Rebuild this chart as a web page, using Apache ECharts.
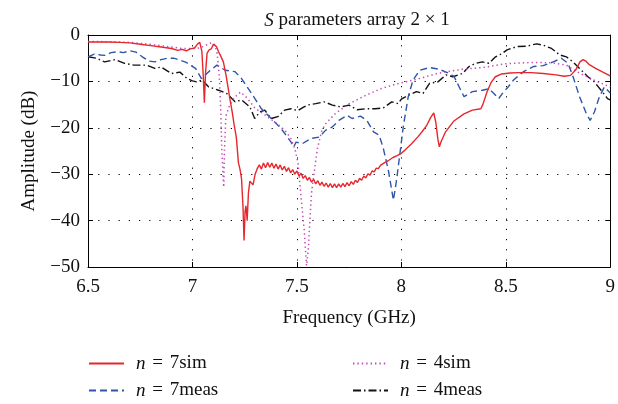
<!DOCTYPE html>
<html>
<head>
<meta charset="utf-8">
<script src="https://cdn.jsdelivr.net/npm/echarts@6/dist/echarts.min.js"></script>
<style>html,body{margin:0;padding:0;background:#fff}#c{width:618px;height:404px}</style>
</head>
<body>
<div id="c"></div>
<script>
// ---- data (frequency GHz, amplitude dB) ----
var xTicks = [6.5, 7, 7.5, 8, 8.5, 9];
var yTicks = [0, -10, -20, -30, -40, -50];
var seriesNames = ['n = 7sim', 'n = 7meas', 'n = 4sim', 'n = 4meas'];

var sim7 = [
 [6.50,-1.5],[6.55,-1.5],[6.60,-1.5],[6.65,-1.6],[6.70,-1.7],[6.75,-2.0],[6.80,-2.3],[6.85,-2.6],[6.90,-2.9],
 [6.93,-3.3],[6.95,-3.1],[6.97,-3.4],[6.99,-3.0],[7.01,-2.8],[7.025,-1.9],[7.035,-1.6],[7.045,-3.5],[7.052,-9],
 [7.057,-14.6],[7.063,-8],[7.07,-3.9],[7.08,-3.2],[7.09,-3.0],[7.10,-2.0],[7.106,-1.7],[7.115,-2.5],[7.125,-3.6],
 [7.135,-4.5],[7.148,-5.8],[7.16,-8.5],[7.17,-11.2],[7.18,-14],[7.19,-16.5],[7.20,-19.5],[7.21,-22],[7.22,-27.5],
 [7.228,-29.0],[7.235,-31],[7.242,-37],[7.247,-44.3],[7.252,-38],[7.256,-36.8],[7.262,-40],[7.268,-34],[7.275,-31.5],
 [7.283,-31.2],[7.29,-32.3],[7.30,-30.0],[7.31,-28.8],
 [7.32,-28.0],[7.33,-28.9],[7.34,-27.6],[7.35,-28.6],[7.36,-27.5],[7.37,-28.5],[7.38,-27.6],[7.39,-28.7],[7.40,-27.8],
 [7.41,-28.9],[7.42,-28.0],[7.43,-29.1],[7.44,-28.3],[7.45,-29.4],[7.46,-28.6],[7.47,-29.7],[7.48,-29.0],[7.49,-30.0],
 [7.50,-29.3],[7.51,-30.4],[7.52,-29.8],[7.53,-30.9],[7.54,-30.3],[7.55,-31.3],[7.56,-30.7],[7.57,-31.7],[7.58,-31.1],
 [7.59,-32.1],[7.60,-31.4],[7.61,-32.4],[7.62,-31.7],[7.63,-32.6],[7.64,-31.9],[7.65,-32.8],[7.66,-32.0],[7.67,-32.9],
 [7.68,-32.1],[7.69,-32.9],[7.70,-32.1],[7.71,-32.8],[7.72,-32.0],[7.73,-32.7],[7.74,-31.8],[7.75,-32.5],[7.76,-31.6],
 [7.77,-32.2],[7.78,-31.3],[7.79,-31.8],[7.80,-30.9],[7.81,-31.3],[7.82,-30.4],[7.83,-30.8],[7.84,-29.9],[7.85,-30.2],
 [7.86,-29.3],[7.87,-29.5],[7.88,-28.7],[7.89,-28.8],[7.90,-28.1],[7.92,-27.5],[7.94,-27.0],[7.96,-26.4],[7.98,-26.0],
 [8.00,-25.5],[8.02,-24.7],[8.05,-23.4],[8.08,-21.9],[8.10,-20.8],[8.12,-19.6],[8.14,-17.8],[8.155,-16.8],[8.165,-18.8],
 [8.175,-22.5],[8.182,-24.1],[8.19,-23.0],[8.21,-21.0],[8.25,-18.6],[8.30,-17.0],[8.34,-16.2],[8.38,-15.9],[8.39,-15.0],
 [8.41,-12.3],[8.43,-10.2],[8.45,-9.0],[8.48,-8.4],[8.52,-8.2],[8.56,-8.1],[8.62,-8.1],[8.68,-8.3],[8.74,-8.6],
 [8.78,-8.9],[8.81,-8.7],[8.835,-7.5],[8.855,-5.8],[8.87,-5.3],[8.885,-5.7],[8.90,-6.4],[8.93,-7.2],[8.96,-7.9],[9.00,-8.8]
];

var meas7 = [
 [6.50,-4.7],[6.53,-4.1],[6.56,-4.3],[6.58,-4.4],[6.61,-3.8],[6.64,-3.6],[6.67,-3.8],[6.70,-3.4],[6.73,-3.7],
 [6.76,-4.7],[6.79,-5.6],[6.82,-5.8],[6.85,-5.3],[6.88,-5.0],[6.91,-5.0],[6.94,-5.4],[6.97,-5.9],[6.99,-6.5],
 [7.015,-7.2],[7.043,-9.4],[7.078,-7.9],[7.117,-6.5],[7.157,-7.6],[7.204,-7.9],[7.235,-9.4],[7.283,-12.6],
 [7.33,-15.9],[7.377,-18.0],[7.425,-20.2],[7.472,-23.1],[7.485,-24.1],[7.496,-23.1],[7.527,-23.4],[7.567,-22.3],
 [7.607,-22.0],[7.638,-20.5],[7.67,-19.8],[7.701,-18.4],[7.74,-17.3],[7.764,-18.0],[7.804,-17.5],[7.835,-18.4],
 [7.867,-20.9],[7.894,-21.6],[7.914,-24.5],[7.938,-29.2],[7.962,-35.6],[7.977,-31.3],[7.993,-25.6],[8.009,-19.8],
 [8.033,-13.3],[8.056,-9.7],[8.088,-7.6],[8.135,-7.0],[8.182,-7.4],[8.23,-8.3],[8.253,-9.0],[8.277,-11.2],[8.30,-13.3],
 [8.34,-12.2],[8.388,-11.9],[8.419,-11.6],[8.443,-12.6],[8.466,-13.7],[8.49,-12.2],[8.506,-11.5],[8.537,-9.7],
 [8.585,-7.9],[8.632,-6.8],[8.679,-6.6],[8.727,-5.8],[8.766,-5.0],[8.798,-6.1],[8.822,-9.0],[8.853,-13.3],
 [8.885,-16.9],[8.904,-18.4],[8.924,-16.6],[8.948,-13.3],[8.972,-11.2],[9.00,-12.5]
];

var sim4 = [
 [6.50,-1.4],[6.55,-1.4],[6.60,-1.5],[6.65,-1.5],[6.70,-1.6],[6.75,-1.8],[6.80,-2.0],[6.85,-2.3],[6.90,-2.6],
 [6.95,-2.9],[7.00,-2.9],[7.03,-2.8],[7.05,-2.5],[7.07,-2.1],[7.09,-1.7],[7.105,-2.0],[7.117,-3.6],[7.125,-7],
 [7.13,-10],[7.136,-16.9],[7.14,-24],[7.146,-30],[7.15,-32.8],[7.153,-25],[7.16,-17.5],[7.175,-15.5],[7.20,-13.5],
 [7.23,-12.3],[7.26,-13.5],[7.30,-15.8],[7.35,-17.3],[7.40,-19],[7.44,-20.4],[7.47,-22.2],[7.49,-24.5],[7.505,-27.5],
 [7.52,-35],[7.535,-42],[7.546,-49.7],[7.555,-46],[7.562,-40],[7.57,-34],[7.583,-29.5],[7.598,-24.5],[7.62,-20.5],
 [7.64,-19],[7.685,-16.9],[7.75,-14.8],[7.83,-13.0],[7.90,-11.6],[7.98,-10.5],[8.07,-9.6],[8.17,-8.3],[8.29,-7.4],
 [8.39,-7.0],[8.50,-6.2],[8.63,-5.9],[8.72,-6.0],[8.79,-6.5],[8.84,-7.9],[8.92,-9.7],[9.00,-11.2]
];

var meas4 = [
 [6.50,-4.7],[6.54,-5.0],[6.58,-5.8],[6.63,-5.3],[6.675,-6.1],[6.72,-6.5],[6.78,-6.5],[6.82,-7.2],[6.85,-6.9],
 [6.90,-8.3],[6.94,-8.0],[6.975,-9.4],[7.00,-9.9],[7.02,-10.1],[7.046,-9.7],[7.078,-11.2],[7.125,-11.9],[7.164,-12.6],
 [7.204,-14.4],[7.235,-14.0],[7.275,-15.5],[7.298,-18.0],[7.322,-16.6],[7.346,-16.2],[7.377,-18.0],[7.409,-17.6],
 [7.441,-16.2],[7.472,-15.9],[7.504,-16.3],[7.53,-15.6],[7.551,-15.1],[7.59,-14.8],[7.63,-14.4],[7.67,-15.1],
 [7.709,-15.5],[7.749,-15.1],[7.788,-16.1],[7.827,-15.9],[7.875,-15.9],[7.914,-15.7],[7.954,-14.4],[7.985,-14.8],
 [8.00,-13.8],[8.033,-13.0],[8.072,-12.2],[8.104,-12.6],[8.135,-10.4],[8.175,-10.1],[8.214,-8.6],[8.246,-9.0],
 [8.293,-8.3],[8.324,-6.8],[8.356,-6.1],[8.388,-5.8],[8.419,-6.1],[8.451,-4.7],[8.482,-4.0],[8.506,-3.2],[8.553,-2.5],
 [8.601,-2.4],[8.648,-1.9],[8.679,-2.2],[8.719,-2.9],[8.758,-4.3],[8.79,-4.7],[8.822,-5.8],[8.853,-7.2],[8.893,-9.0],
 [8.924,-10.1],[8.956,-11.9],[8.987,-13.7],[9.00,-14.0]
];

// ---- chart ----
var FONT = '"Liberation Serif", "DejaVu Serif", serif';
var FS = 19;
var chart = echarts.init(document.getElementById('c'), null, {renderer: 'canvas'});
var gridLine = {show: true, lineStyle: {color: '#000', width: 1, type: [1.2, 9]}};
function fmtY(v) { return String(v).replace('-', '\u2212'); }
function makeRich() {
  return {
    i: {fontFamily: FONT, fontStyle: 'italic', fontSize: FS, lineHeight: 19, color: '#111', padding: [0, 0, 0, 7]},
    e: {fontFamily: FONT, fontSize: FS, lineHeight: 19, color: '#111', padding: [0, 2, 0, 2]},
    t: {fontFamily: FONT, fontSize: FS, lineHeight: 19, color: '#111'}
  };
}
function legendFmt(name) {
  var parts = name.split(' = ');
  return '{i|' + parts[0] + '}{e| = }{t|' + parts[1] + '}';
}
function makeLegend(names, left) {
  return {
    data: names, left: left, top: 354, orient: 'vertical', padding: 0,
    itemWidth: 35, itemHeight: 12, itemGap: 8,
    formatter: legendFmt,
    itemStyle: {opacity: 0, borderWidth: 0},
    textStyle: {lineHeight: 19, rich: makeRich()}
  };
}

var baseAxisX = {
  type: 'value', min: xTicks[0], max: xTicks[xTicks.length - 1], interval: 0.5,
  axisLine: {show: true, onZero: false, lineStyle: {color: '#000', width: 1}},
  axisTick: {show: true, inside: true, length: 5, lineStyle: {color: '#000'}}
};
var baseAxisY = {
  type: 'value', min: yTicks[yTicks.length - 1], max: yTicks[0], interval: 10,
  axisLine: {show: true, onZero: false, lineStyle: {color: '#000', width: 1}},
  axisTick: {show: true, inside: true, length: 5, lineStyle: {color: '#000'}}
};

chart.setOption({
  animation: false,
  backgroundColor: '#fff',
  title: {
    text: '{i|S}{t| parameters array 2 \u00d7 1}',
    left: 352, top: 6, textAlign: 'center',
    textStyle: {fontWeight: 'normal', rich: {
      i: {fontFamily: FONT, fontStyle: 'italic', fontWeight: 'normal', fontSize: 19, color: '#111'},
      t: {fontFamily: FONT, fontWeight: 'normal', fontSize: 19, color: '#111'}
    }}
  },
  grid: {left: 88, right: 2, top: 35, bottom: 137, containLabel: false},
  xAxis: [
    Object.assign({}, baseAxisX, {
      position: 'bottom',
      name: 'Frequency (GHz)', nameLocation: 'middle', nameGap: 42,
      nameTextStyle: {fontFamily: FONT, fontSize: FS, color: '#111'},
      axisLabel: {fontFamily: FONT, fontSize: FS, color: '#111', margin: 11,
        formatter: function (v) { return String(v); }},
      splitLine: gridLine
    }),
    Object.assign({}, baseAxisX, {position: 'top', axisLabel: {show: false}, splitLine: {show: false}})
  ],
  yAxis: [
    Object.assign({}, baseAxisY, {
      position: 'left',
      name: 'Amplitude (dB)', nameLocation: 'middle', nameGap: 49,
      nameTextStyle: {fontFamily: FONT, fontSize: FS, color: '#111'},
      axisLabel: {fontFamily: FONT, fontSize: FS, color: '#111', margin: 8, formatter: fmtY},
      splitLine: gridLine
    }),
    Object.assign({}, baseAxisY, {position: 'right', axisLabel: {show: false}, splitLine: {show: false}})
  ],
  legend: [
    makeLegend([seriesNames[0], seriesNames[1]], 88),
    makeLegend([seriesNames[2], seriesNames[3]], 352)
  ],
  series: [
    {name: seriesNames[0], type: 'line', data: sim7, showSymbol: false, symbol: 'none',
     lineStyle: {color: '#e8262d', width: 1.4, type: 'solid'}, itemStyle: {color: '#e8262d'}, z: 5},
    {name: seriesNames[1], type: 'line', data: meas7, showSymbol: false, symbol: 'none',
     lineStyle: {color: '#2f55a8', width: 1.4, type: [7, 4]}, itemStyle: {color: '#2f55a8'}, z: 3},
    {name: seriesNames[2], type: 'line', data: sim4, showSymbol: false, symbol: 'none',
     lineStyle: {color: '#c44bb8', width: 1.5, type: [1.4, 3]}, itemStyle: {color: '#c44bb8'}, z: 4},
    {name: seriesNames[3], type: 'line', data: meas4, showSymbol: false, symbol: 'none',
     lineStyle: {color: '#111', width: 1.4, type: [8, 3, 1.5, 3]}, itemStyle: {color: '#111'}, z: 2}
  ]
});
</script>
</body>
</html>
